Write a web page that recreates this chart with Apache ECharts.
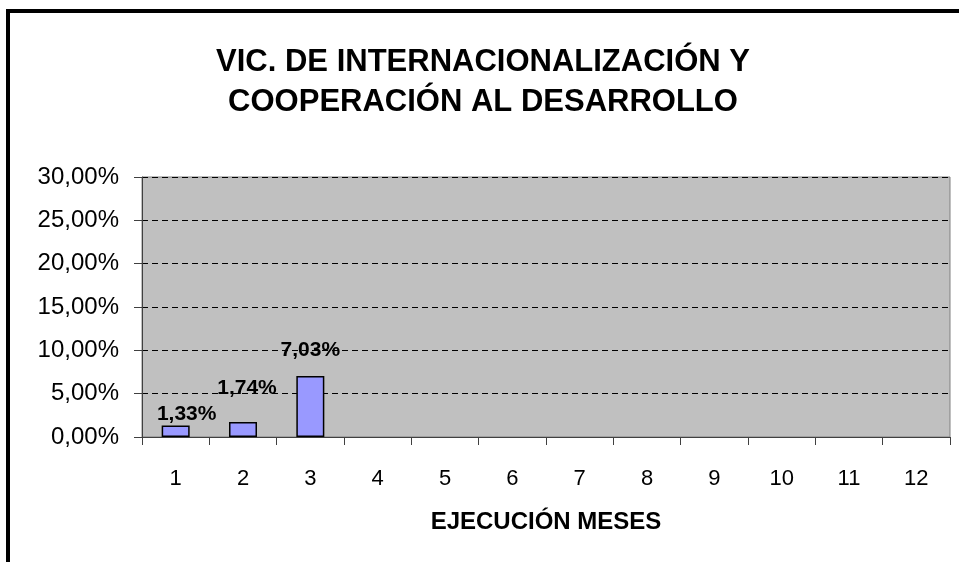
<!DOCTYPE html>
<html>
<head>
<meta charset="utf-8">
<script src="https://cdn.jsdelivr.net/npm/echarts@6/dist/echarts.min.js"></script>
<style>
  html, body { margin: 0; padding: 0; background: #fff; }
  #frame { position: absolute; left: 6px; top: 9px; width: 1000px; height: 600px; border-left: 4px solid #000; border-top: 4px solid #000; }
  #chart { position: absolute; left: 0; top: 0; width: 959px; height: 562px; }
</style>
</head>
<body>
<div id="frame"></div>
<div id="chart"></div>
<script>
// meses 1..12
var meses = ['1', '2', '3', '4', '5', '6', '7', '8', '9', '10', '11', '12']
// % ejecucion (solo hay datos hasta el mes 3)
var ejecucion = [1.33, 1.74, 7.03, null, null, null, null, null, null, null, null, null]
var yMax = 30
var yStep = 5
// desplazamiento de las etiquetas (en el original estan colocadas a mano)
var labelNudge = [[11, 4], [4, -18], [0, -10]]

function pct (v) {
  return v.toFixed(2).replace('.', ',') + '%'
}

var serieData = ejecucion.map(function (v, i) {
  var item = { value: v }
  if (labelNudge[i]) {
    item.label = { offset: labelNudge[i] }
  }
  return item
})

var chart = echarts.init(document.getElementById('chart'))
chart.setOption({
  backgroundColor: 'transparent',
  textStyle: { fontFamily: 'Liberation Sans, Arial, sans-serif' },
  title: {
    text: 'VIC. DE INTERNACIONALIZACIÓN Y\nCOOPERACIÓN AL DESARROLLO',
    left: 478,
    textAlign: 'center',
    top: 37,
    textStyle: {
      fontSize: 31,
      fontWeight: 'bold',
      color: '#000',
      lineHeight: 40,
      fontFamily: 'Liberation Sans, Arial, sans-serif'
    }
  },
  grid: {
    left: 142,
    right: 9,
    top: 177,
    bottom: 125,
    show: true,
    backgroundColor: '#C0C0C0',
    borderColor: '#808080',
    borderWidth: 1
  },
  xAxis: {
    type: 'category',
    data: meses,
    name: 'EJECUCIÓN MESES',
    nameLocation: 'middle',
    nameGap: 73,
    nameTextStyle: { fontSize: 24, fontWeight: 'bold', color: '#000' },
    axisLine: { lineStyle: { color: '#404040', width: 1 } },
    axisTick: { show: true, length: 8, lineStyle: { color: '#404040' } },
    axisLabel: { fontSize: 22, color: '#000', margin: 31 }
  },
  yAxis: {
    type: 'value',
    min: 0,
    max: yMax,
    interval: yStep,
    axisLine: { show: true, lineStyle: { color: '#404040', width: 1 } },
    axisTick: { show: true, length: 8, lineStyle: { color: '#404040' } },
    axisLabel: {
      fontSize: 24,
      color: '#000',
      margin: 23,
      formatter: function (v) { return pct(v) }
    },
    splitLine: { lineStyle: { color: '#000', type: [6, 4], width: 1 } }
  },
  series: [
    {
      type: 'bar',
      data: serieData,
      barWidth: 28,
      itemStyle: { color: '#9999FF', borderColor: '#000', borderWidth: 1.5 },
      label: {
        show: true,
        position: 'top',
        distance: 5,
        fontSize: 21,
        fontWeight: 'bold',
        color: '#000',
        formatter: function (p) { return pct(p.value) }
      }
    }
  ]
})
</script>
</body>
</html>
